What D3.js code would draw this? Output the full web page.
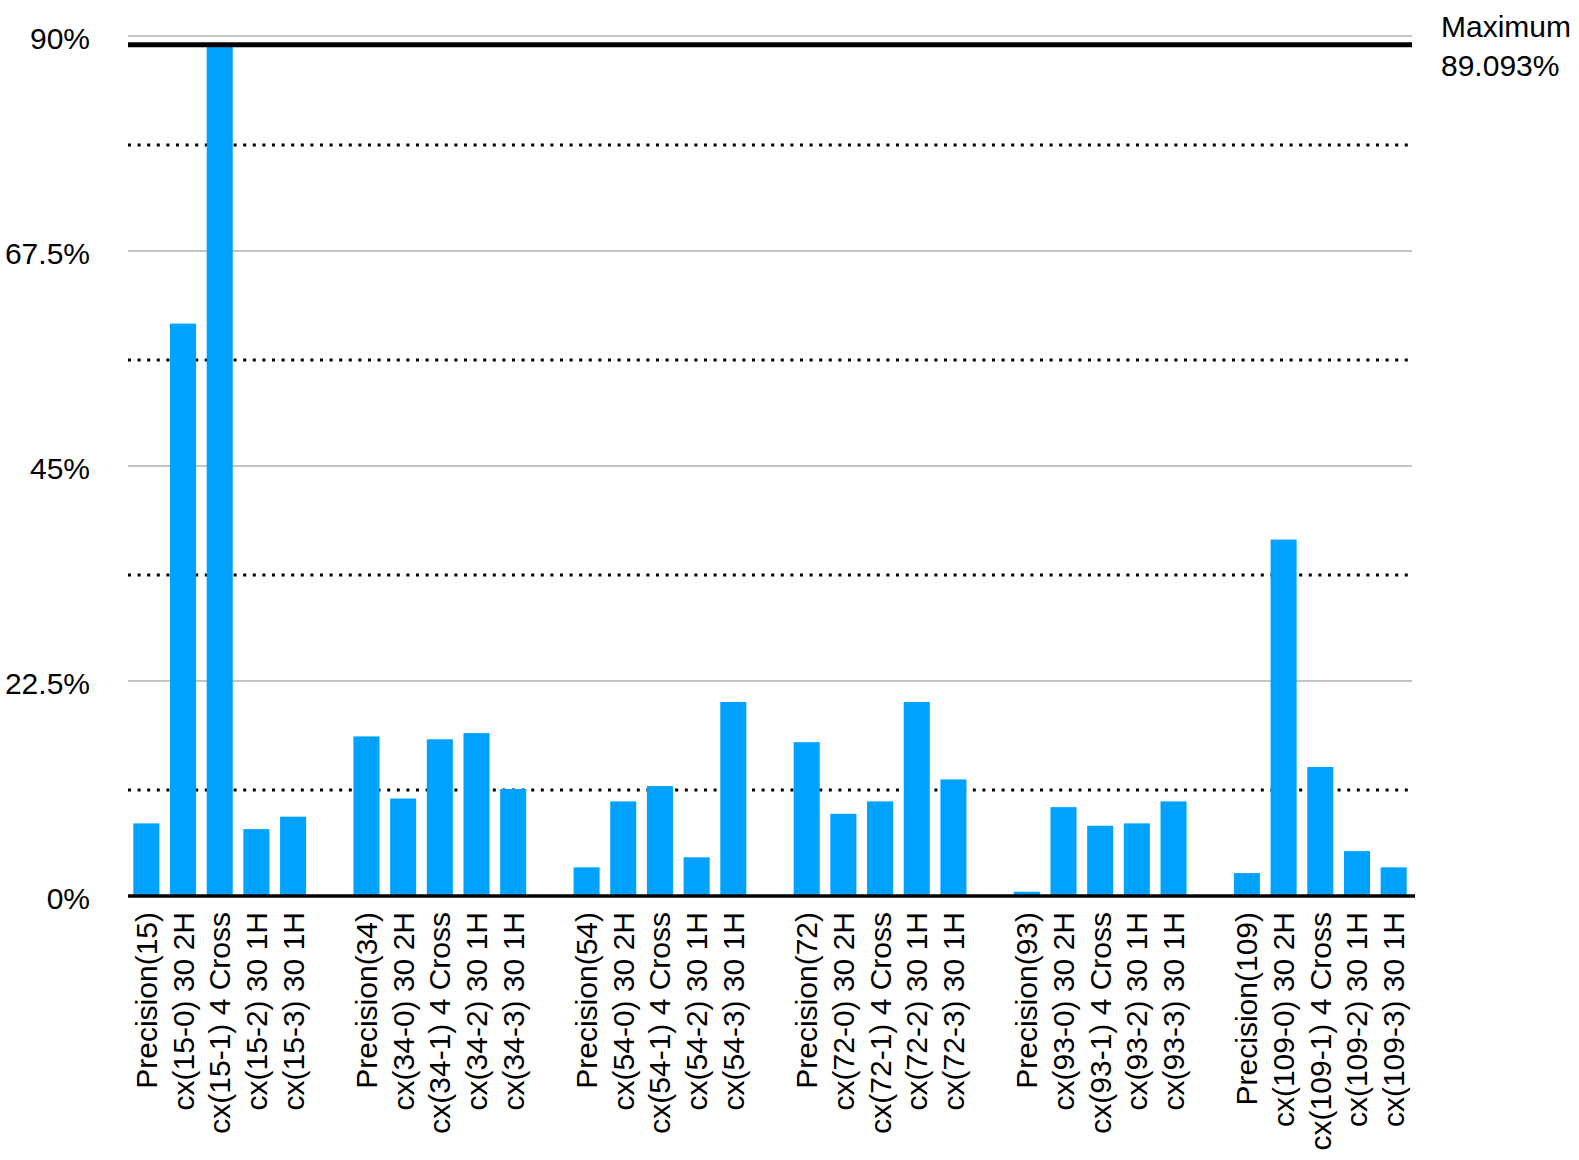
<!DOCTYPE html>
<html>
<head>
<meta charset="utf-8">
<script src="https://cdn.jsdelivr.net/npm/d3@7"></script>
<style>
  body { margin: 0; background: #fff; }
  text { font-family: "Liberation Sans", Arial, sans-serif; fill: #000; }
</style>
</head>
<body>
<div id="chart"></div>
<script>
// bar labels, one group per precision level
var groups = [15, 34, 54, 72, 93, 109];
var suffixes = ["0) 30 2H", "1) 4 Cross", "2) 30 1H", "3) 30 1H"];
// values in percent
var values15  = [7.6, 59.9, 89.093, 7.0, 8.3];
var values34  = [16.7, 10.2, 16.4, 17.05, 11.2];
var values54  = [3.0, 9.9, 11.5, 4.05, 20.3];
var values72  = [16.1, 8.6, 9.9, 20.3, 12.2];
var values93  = [0.45, 9.3, 7.35, 7.6, 9.9];
var values109 = [2.4, 37.3, 13.5, 4.7, 3.0];
var allValues = [values15, values34, values54, values72, values93, values109];
var yTicks = [0, 22.5, 45, 67.5, 90];
var dottedTicks = [11.25, 33.75, 56.25, 78.75];
var maximum = 89.093;

//Build the list of slots, with an empty slot between groups
var slots = [];
groups.forEach(function(g, gi){
    slots.push({id: "p" + g, label: "Precision(" + g + ")", value: allValues[gi][0]});
    suffixes.forEach(function(s, si){
        slots.push({id: "c" + g + "-" + si, label: "cx(" + g + "-" + s, value: allValues[gi][si + 1]});
    });
    if (gi < groups.length - 1) slots.push({id: "gap" + gi, label: "", value: null});
});

var w = 1579, h = 1160;
//plot edges (window.top is reserved, so use other names)
var plotLeft = 128, plotRight = 1412, plotTop = 36, plotBottom = 896;
var fontSize = "30px";

var svg = d3.select("#chart").append("svg")
    .attr("width", w)
    .attr("height", h);

var x = d3.scaleBand()
    .domain(slots.map(function(d){ return d.id; }))
    .range([plotLeft, plotRight])
    .paddingInner(0.29)
    .paddingOuter(0.145);

var y = d3.scaleLinear().domain([0, 90]).range([plotBottom, plotTop]);

//Grey gridlines
svg.selectAll(".grid")
    .data(yTicks)
    .enter()
    .append("line")
    .attr("x1", plotLeft).attr("x2", plotRight)
    .attr("y1", function(d){ return y(d); })
    .attr("y2", function(d){ return y(d); })
    .attr("stroke", "#c4c4c4")
    .attr("stroke-width", 2);

//Dotted lines in between (sit a touch below the exact value in the original)
svg.selectAll(".dots")
    .data(dottedTicks)
    .enter()
    .append("line")
    .attr("x1", plotLeft).attr("x2", plotRight)
    .attr("y1", function(d){ return y(d) + 1.5; })
    .attr("y2", function(d){ return y(d) + 1.5; })
    .attr("stroke", "#000")
    .attr("stroke-width", 3)
    .attr("stroke-dasharray", "3,6.6");

//Bars
svg.selectAll("rect")
    .data(slots.filter(function(d){ return d.value !== null; }))
    .enter()
    .append("rect")
    .attr("x", function(d){ return x(d.id); })
    .attr("width", x.bandwidth())
    .attr("y", function(d){ return y(d.value); })
    .attr("height", function(d){ return y(0) - y(d.value); })
    .attr("fill", "#00a2ff");

//Baseline
svg.append("line")
    .attr("x1", plotLeft).attr("x2", plotRight + 3)
    .attr("y1", y(0)).attr("y2", y(0))
    .attr("stroke", "#000")
    .attr("stroke-width", 3.5);

//Maximum line and label
svg.append("line")
    .attr("x1", plotLeft).attr("x2", plotRight)
    .attr("y1", y(maximum)).attr("y2", y(maximum))
    .attr("stroke", "#000")
    .attr("stroke-width", 5);

var maxLabel = svg.append("text")
    .attr("x", 1441)
    .attr("y", 37)
    .style("font-size", fontSize);
maxLabel.append("tspan").attr("x", 1441).text("Maximum");
maxLabel.append("tspan").attr("x", 1441).attr("dy", 39).text(d3.format(".3f")(maximum) + "%");

//Y axis labels
svg.selectAll(".ylab")
    .data(yTicks)
    .enter()
    .append("text")
    .attr("x", 90)
    .attr("y", function(d){ return y(d) + 2; })
    .attr("dy", "0.35em")
    .attr("text-anchor", "end")
    .style("font-size", fontSize)
    .text(function(d){ return d + "%"; });

//X axis labels, rotated
svg.selectAll(".xlab")
    .data(slots.filter(function(d){ return d.label !== ""; }))
    .enter()
    .append("text")
    .attr("transform", function(d){
        return "translate(" + (x(d.id) + x.bandwidth() / 2) + "," + 912 + ") rotate(-90)";
    })
    .attr("dy", "0.35em")
    .attr("text-anchor", "end")
    .style("font-size", fontSize)
    .text(function(d){ return d.label; });
</script>
</body>
</html>
